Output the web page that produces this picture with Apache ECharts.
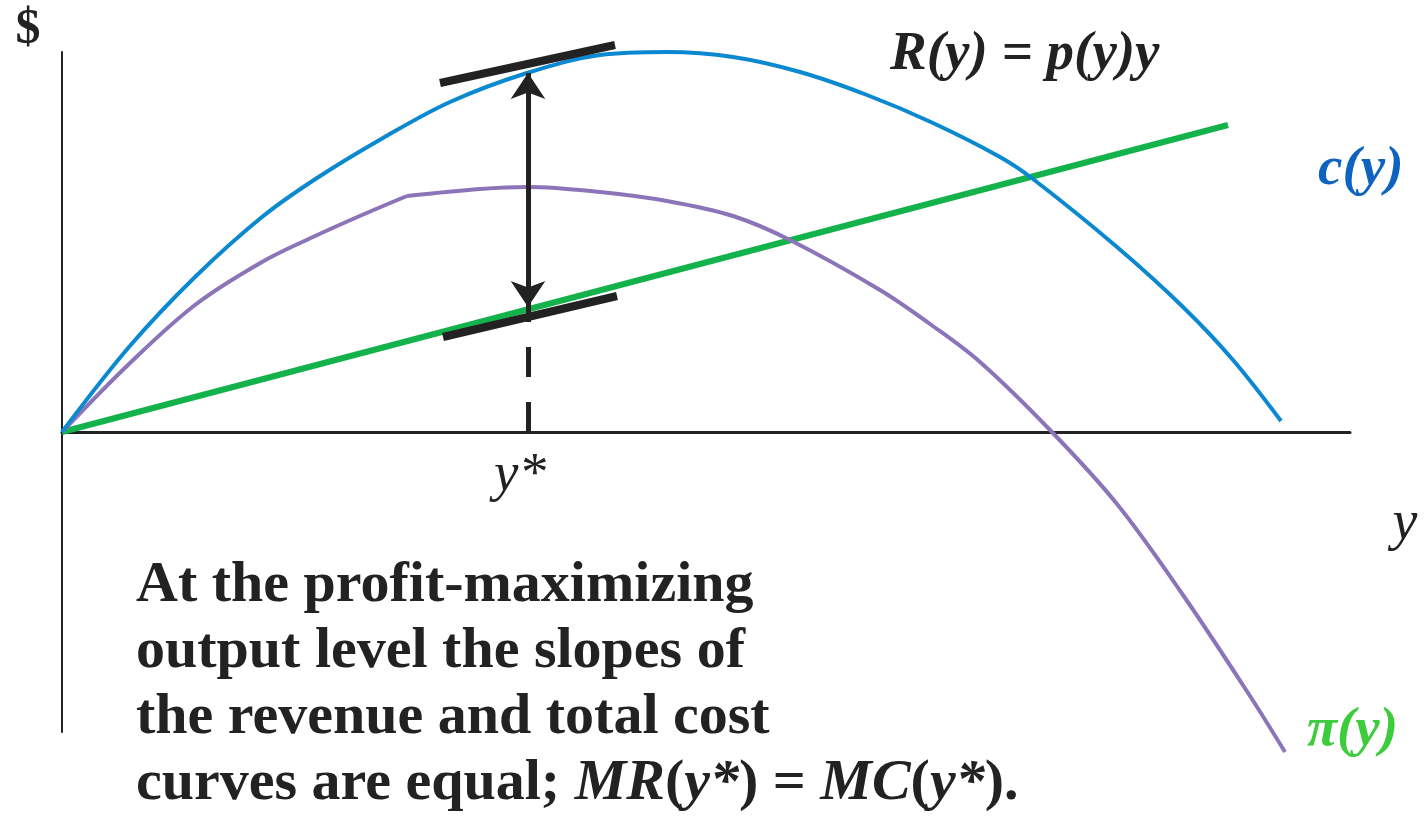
<!DOCTYPE html>
<html>
<head>
<meta charset="utf-8">
<script src="https://cdn.jsdelivr.net/npm/echarts@6/dist/echarts.min.js"></script>
<style>
  html, body { margin: 0; padding: 0; background: #fff; }
  #chart { width: 1425px; height: 816px; }
</style>
</head>
<body>
<div id="chart"></div>
<script>
// curve points (x = output, y = dollars)
const revenuePts = [[0, 0], [67, 85], [133, 155], [200, 215], [255, 254], [321, 294], [388, 330], [465, 359],
  [538, 377], [605, 380], [671, 375], [738, 360], [805, 337], [871, 309], [938, 275], [971, 253], [1055, 185],
  [1121, 125], [1171, 72], [1219, 11]]
const costPts = [[0, 0], [1166, 307]]
// profit has a visible corner where the two pieces meet
const profitRise = [[0, 0], [67, 68], [133, 127], [200, 170], [251, 195], [300, 217], [345, 236]]
const profitFall = [[345, 236], [418, 243], [466, 245], [538, 240], [605, 231], [671, 216], [728, 192],
  [818, 142], [868, 108], [918, 70], [988, 2], [1055, -72], [1121, -163], [1188, -264], [1223, -320]]
const topTangent = [[378, 349], [553, 387]]
const lowTangent = [[381, 95], [555, 136]]
const yStar = 466
const arrowEnds = [359, 125]
const dropTop = 110

const ink = '#222222'
const serif = '"Liberation Serif", serif'
const purple = '#8b74b8'

const chart = echarts.init(document.getElementById('chart'))

const plainLine = (data, color, width, extra) => Object.assign({
  type: 'line',
  data,
  symbol: 'none',
  clip: false,
  silent: true,
  lineStyle: { color, width, cap: 'butt' }
}, extra || {})

const curve = { smooth: 0.35 }

const label = (x, y, text, font, fill, align) => ({
  type: 'text', x, y,
  style: { text, font: font + ' ' + serif, fill: fill || ink, align: align || 'left', verticalAlign: 'middle' }
})

chart.setOption({
  animation: false,
  grid: { left: 62, top: 52, width: 1288, height: 680 },
  xAxis: {
    type: 'value', min: 0, max: 1288,
    axisLine: { show: true, lineStyle: { color: ink, width: 3 } },
    axisTick: { show: false }, axisLabel: { show: false }, splitLine: { show: false }
  },
  yAxis: {
    type: 'value', min: -300, max: 380,
    axisLine: { show: true, lineStyle: { color: ink, width: 2 } },
    axisTick: { show: false }, axisLabel: { show: false }, splitLine: { show: false }
  },
  series: [
    plainLine(costPts, '#13b24a', 6),
    plainLine(profitRise, purple, 4, curve),
    plainLine(profitFall, purple, 4, curve),
    plainLine(revenuePts, '#0a88d0', 4, curve),
    plainLine(topTangent, ink, 8),
    plainLine(lowTangent, ink, 8),
    {
      type: 'line',
      data: [],
      silent: true,
      markLine: {
        silent: true,
        label: { show: false },
        symbol: 'none',
        animation: false,
        data: [
          [{ coord: [yStar, 0], lineStyle: { color: ink, width: 5, type: [30, 25] } },
           { coord: [yStar, dropTop] }],
          [{ coord: [yStar, dropTop], lineStyle: { color: ink, width: 5, type: 'solid' } },
           { coord: [yStar, arrowEnds[1]] }],
          [{ coord: [yStar, arrowEnds[1]], symbol: 'arrow', symbolSize: 26,
             lineStyle: { color: ink, width: 5, type: 'solid' } },
           { coord: [yStar, arrowEnds[0]], symbol: 'arrow', symbolSize: 26 }]
        ]
      }
    }
  ],
  graphic: [
    label(28, 30, '$', 'bold 50px', ink, 'center'),
    label(890, 55, 'R(y) = p(y)y', 'italic bold 55px'),
    label(1318, 170, 'c(y)', 'italic bold 55px', '#0e62c0'),
    label(1307, 731, 'π(y)', 'italic bold 55px', '#3dcc3d'),
    label(1405, 524, 'y', 'italic 56px', ink, 'center'),
    label(520, 476, 'y*', 'italic 55px', ink, 'center'),
    label(136, 586, 'At the profit-maximizing', 'bold 58px'),
    label(136, 652, 'output level the slopes of', 'bold 58px'),
    label(136, 718, 'the revenue and total cost', 'bold 58px'),
    {
      type: 'text', x: 136, y: 784,
      style: {
        text: '{n|curves are equal; }{i|MR}{n|(}{i|y*}{n|) = }{i|MC}{n|(}{i|y*}{n|).}',
        font: 'bold 58px ' + serif, fill: ink, align: 'left', verticalAlign: 'middle',
        rich: {
          n: { font: 'bold 58px ' + serif, fill: ink },
          i: { font: 'italic bold 58px ' + serif, fill: ink }
        }
      }
    }
  ]
})
</script>
</body>
</html>
